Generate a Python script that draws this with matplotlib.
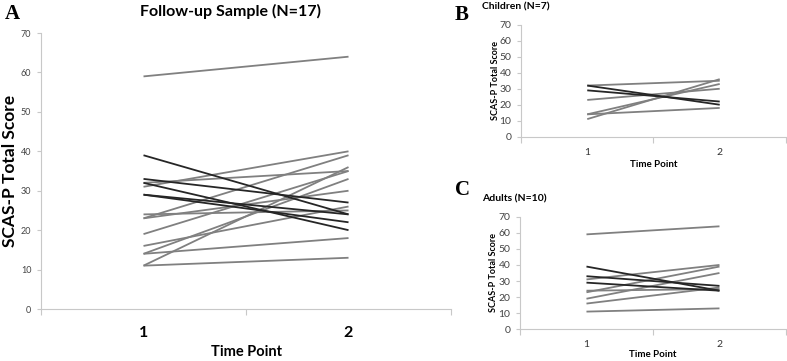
import matplotlib.pyplot as plt

# SCAS-P total scores at time point 1 and 2
time_points = [1, 2]
children_t1 = [32, 32, 29, 23, 14, 11, 14]
children_t2 = [35, 20, 22, 30, 33, 36, 18]
adults_t1 = [59, 39, 33, 31, 29, 23, 24, 19, 16, 11]
adults_t2 = [64, 24, 27, 40, 24, 39, 25, 35, 26, 13]

all_t1 = children_t1 + adults_t1
all_t2 = children_t2 + adults_t2

GRAY = '#808080'
DARK = '#262626'
AXIS = '#c8c8c8'
plt.rcParams['font.family'] = ['Lato', 'DejaVu Sans']


def draw_panel(ax, t1, t2, big, xlab_y, ylab_x):
    # increasing scores in gray, decreasing in dark
    for a, b in zip(t1, t2):
        if b >= a:
            ax.plot(time_points, [a, b], color=GRAY, lw=1.3, solid_capstyle='butt', zorder=2)
    for a, b in zip(t1, t2):
        if b < a:
            ax.plot(time_points, [a, b], color=DARK, lw=1.3, solid_capstyle='butt', zorder=3)
    ax.set_xlim(0.5, 2.5)
    ax.set_ylim(0, 70)
    ax.set_yticks(range(0, 71, 10))
    ax.set_xticks([0.5, 1.5, 2.5])
    ax.set_xticklabels([])
    ax.set_xticks([1, 2], minor=True)
    ax.set_xticklabels(['1', '2'], minor=True)
    ax.tick_params(axis='x', which='minor', length=0)
    for s in ['top', 'right']:
        ax.spines[s].set_visible(False)
    for s in ['left', 'bottom']:
        ax.spines[s].set_color(AXIS)
        ax.spines[s].set_linewidth(0.8)
    ax.tick_params(axis='x', which='major', length=4, color=AXIS, direction='out')
    ax.tick_params(axis='y', length=3, color=AXIS, labelcolor='#444444',
                   labelsize=6.5 if big else 7.5, pad=4)
    if big:
        ax.tick_params(axis='x', which='minor', labelsize=11.5, pad=12)
        for lab in ax.get_xticklabels(minor=True):
            lab.set_fontweight('bold')
        ax.set_xlabel('Time Point', fontsize=10.5, fontweight='bold')
        ax.set_ylabel('SCAS-P Total Score', fontsize=12.5, fontweight='bold')
    else:
        ax.tick_params(axis='x', which='minor', labelsize=7.5, pad=8, labelcolor='#333333')
        ax.set_xlabel('Time Point', fontsize=7, fontweight='bold')
        ax.set_ylabel('SCAS-P Total Score', fontsize=6.5, fontweight='bold')
    ax.xaxis.set_label_coords(0.5, xlab_y)
    ax.xaxis.label.set_va('center')
    ax.yaxis.set_label_coords(ylab_x, 0.5)
    ax.yaxis.label.set_va('center')


fig = plt.figure(figsize=(7.87, 3.61), dpi=100)
axA = fig.add_axes([0.0521, 0.144, 0.521, 0.7645])
axB = fig.add_axes([0.662, 0.6213, 0.3367, 0.310])
axC = fig.add_axes([0.6607, 0.0878, 0.338, 0.312])

draw_panel(axA, all_t1, all_t2, True, -0.155, -0.075)
draw_panel(axB, children_t1, children_t2, False, -0.244, -0.098)
draw_panel(axC, adults_t1, adults_t2, False, -0.225, -0.098)

fig.text(231 / 787, 1 - 11 / 361, 'Follow-up Sample (N=17)', ha='center', va='center',
         fontsize=11.5, fontweight='bold')
fig.text(482 / 787, 1 - 7 / 361, 'Children (N=7)', ha='left', va='center',
         fontsize=7.5, fontweight='bold')
fig.text(482 / 787, 1 - 199 / 361, 'Adults (N=10)', ha='left', va='center',
         fontsize=7.5, fontweight='bold')
for lab, x, y in [('A', 5, 14), ('B', 455, 15), ('C', 455, 190)]:
    fig.text(x / 787, 1 - y / 361, lab, ha='left', va='center', fontsize=15,
             fontweight='bold', family='Liberation Serif')

fig.savefig('out.png', dpi=100)
